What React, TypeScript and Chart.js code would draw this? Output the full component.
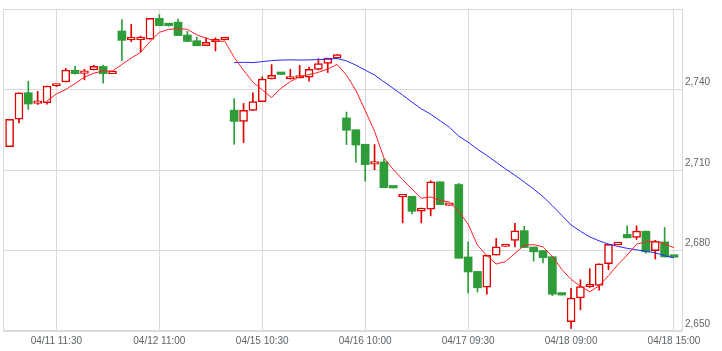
import React, { useEffect, useRef } from 'react';
import { Chart, registerables } from 'chart.js';

Chart.register(...registerables);

// 30-minute candles, 04/11 09:00 .. 04/18 15:00 (72 bars)
const opens = [
  2718.7, 2728.9, 2738.8, 2734.8, 2735.1, 2741.3, 2742.8, 2747.2, 2746.0, 2747.3,
  2748.6, 2745.9, 2761.8, 2758.5, 2758.6, 2758.8, 2766.5, 2764.0, 2765.1, 2760.3,
  2758.2, 2756.3, 2757.8, 2758.5, 2732.3, 2728.1, 2732.2, 2735.5, 2743.9, 2745.8,
  2743.9, 2744.3, 2744.6, 2747.5, 2749.7, 2751.7, 2729.4, 2725.0, 2719.6, 2712.2,
  2713.0, 2703.5, 2700.0, 2700.2, 2694.7, 2695.4, 2705.6, 2696.8, 2704.6, 2677.6,
  2672.2, 2666.3, 2678.3, 2681.5, 2683.8, 2687.4, 2681.3, 2680.0, 2677.7, 2663.6,
  2653.5, 2662.3, 2666.5, 2667.0, 2675.1, 2682.2, 2686.0, 2684.9, 2687.2, 2679.9,
  2683.2, 2678.0,
];
const highs = [
  2728.9, 2738.8, 2743.1, 2739.3, 2741.3, 2741.9, 2747.9, 2748.6, 2747.5, 2749.0,
  2749.1, 2746.9, 2766.1, 2764.3, 2759.9, 2766.5, 2767.9, 2764.0, 2766.2, 2761.7,
  2759.5, 2759.3, 2759.3, 2759.5, 2736.6, 2734.8, 2738.8, 2744.7, 2749.3, 2745.8,
  2747.5, 2749.0, 2748.4, 2751.5, 2751.7, 2753.0, 2731.6, 2725.0, 2719.6, 2719.5,
  2714.1, 2703.5, 2700.4, 2700.2, 2695.8, 2706.0, 2705.6, 2697.2, 2705.0, 2683.2,
  2672.2, 2678.2, 2684.5, 2681.7, 2690.1, 2689.0, 2681.3, 2680.0, 2677.7, 2663.6,
  2665.9, 2669.1, 2673.2, 2675.0, 2682.3, 2682.6, 2689.2, 2689.2, 2687.2, 2683.8,
  2688.6, 2678.0,
];
const lows = [
  2718.7, 2727.5, 2732.6, 2734.4, 2734.5, 2741.1, 2742.8, 2745.7, 2743.6, 2747.3,
  2742.4, 2745.9, 2750.8, 2757.8, 2753.9, 2758.8, 2763.8, 2763.6, 2760.1, 2757.9,
  2756.3, 2756.3, 2754.4, 2758.5, 2719.6, 2720.2, 2732.2, 2735.5, 2743.9, 2745.6,
  2743.9, 2744.3, 2743.1, 2747.3, 2746.3, 2751.7, 2719.5, 2712.9, 2705.8, 2710.1,
  2703.4, 2703.3, 2690.3, 2693.6, 2690.3, 2692.9, 2697.1, 2696.8, 2677.1, 2664.1,
  2664.5, 2663.7, 2678.3, 2681.5, 2681.3, 2681.1, 2676.0, 2675.4, 2663.2, 2663.4,
  2651.0, 2657.9, 2666.2, 2665.2, 2672.8, 2682.2, 2684.7, 2684.1, 2679.0, 2676.8,
  2677.6, 2677.5,
];
const closes = [
  2728.9, 2738.8, 2734.6, 2735.2, 2741.3, 2741.7, 2747.2, 2745.9, 2747.0, 2748.6,
  2745.9, 2746.9, 2758.3, 2758.9, 2759.0, 2766.5, 2763.8, 2763.8, 2760.1, 2757.9,
  2756.3, 2757.6, 2758.4, 2759.5, 2728.1, 2732.2, 2735.5, 2743.9, 2745.3, 2745.6,
  2744.3, 2744.9, 2747.5, 2749.7, 2751.7, 2753.0, 2724.8, 2719.3, 2712.0, 2713.0,
  2703.4, 2703.3, 2700.4, 2694.6, 2695.8, 2705.6, 2697.1, 2697.2, 2677.1, 2672.0,
  2666.1, 2678.2, 2681.4, 2681.7, 2687.3, 2681.1, 2679.5, 2677.3, 2663.7, 2663.4,
  2662.3, 2666.6, 2667.0, 2675.0, 2682.3, 2682.6, 2684.7, 2687.2, 2679.5, 2683.4,
  2677.6, 2677.5,
];

// short moving average (red), first value at bar 4
const maShortStart = 4;
const maShort = [
  2735.76, 2738.32, 2740.0, 2742.26, 2744.62, 2746.08, 2746.92, 2746.86, 2749.34, 2751.72,
  2753.8, 2757.92, 2761.3, 2762.4, 2762.64, 2762.42, 2760.38, 2759.14, 2758.06, 2757.94,
  2751.98, 2747.16, 2742.74, 2739.84, 2737.0, 2740.5, 2742.92, 2744.8, 2745.52, 2746.4,
  2747.62, 2749.36, 2745.34, 2739.7, 2732.16, 2724.42, 2714.5, 2710.2, 2706.42, 2702.94,
  2699.5, 2699.94, 2698.7, 2698.06, 2694.56, 2689.8, 2681.9, 2678.12, 2674.96, 2675.88,
  2678.94, 2681.94, 2682.2, 2681.38, 2677.78, 2673.0, 2669.24, 2666.66, 2664.6, 2666.86,
  2670.64, 2674.7, 2678.32, 2682.36, 2683.26, 2683.48, 2682.48, 2681.04,
];

// long moving average (blue), first value at bar 24
const maLongStart = 24;
const maLong = [
  2750.01, 2750.14, 2750.01, 2750.38, 2750.78, 2750.96, 2751.06, 2750.97, 2751.03, 2751.14,
  2751.26, 2751.55, 2750.66, 2749.1, 2747.23, 2745.39, 2742.86, 2740.44, 2737.91, 2735.29,
  2732.8, 2730.78, 2728.36, 2725.91, 2722.61, 2720.37, 2717.72, 2715.43, 2712.93, 2710.39,
  2708.06, 2705.53, 2702.91, 2700.1, 2696.66, 2693.13, 2689.5, 2687.18, 2685.08, 2683.6,
  2682.38, 2681.54, 2680.8, 2680.27, 2679.67, 2679.17, 2678.05, 2677.27,
];

const xTickIndex = [5, 16, 27, 38, 49, 60, 71];
const xTickLabels = ['04/11 11:30', '04/12 11:00', '04/15 10:30', '04/16 10:00', '04/17 09:30', '04/18 09:00', '04/18 15:00'];
const yMin = 2650;
const yMax = 2770;
const yStep = 30;

const RED = '#e00000';
const GREEN = '#2f9c3a';
const GRID = '#dadada';
const TEXT = '#5f6468';

export default function App() {
  const ref = useRef<HTMLCanvasElement>(null);

  useEffect(() => {
    document.body.style.margin = '0';
    const idx = closes.map((_, i) => i);
    const up = idx.map((i) => closes[i] >= opens[i]);
    const wickData = idx.map((i) => ({ x: i, y: [lows[i], highs[i]] }));
    const bodyData = idx.map((i) => ({ x: i, y: [opens[i], closes[i]] }));
    const shortData = maShort.map((v, k) => ({ x: k + maShortStart, y: v }));
    const longData = maLong.map((v, k) => ({ x: k + maLongStart, y: v }));

    const frame = {
      id: 'frame',
      beforeDatasetsDraw(chart: any) {
        const { ctx, chartArea: a } = chart;
        ctx.save();
        ctx.strokeStyle = GRID;
        ctx.lineWidth = 1;
        const l = Math.round(a.left) + 0.5;
        const t = Math.round(a.top) + 0.5;
        const r = Math.round(a.right) + 0.5;
        const b = Math.round(a.bottom) - 0.5;
        ctx.strokeRect(l, t, r - l, b - t);
        ctx.restore();
      },
    };

    const chart = new Chart(ref.current as HTMLCanvasElement, {
      type: 'bar',
      data: {
        datasets: [
          {
            type: 'line',
            data: shortData as any,
            borderColor: '#ff1e1e',
            borderWidth: 1,
            pointRadius: 0,
            tension: 0,
            order: 1,
          },
          {
            type: 'line',
            data: longData as any,
            borderColor: '#2626ff',
            borderWidth: 1,
            pointRadius: 0,
            tension: 0,
            order: 1,
          },
          {
            type: 'bar',
            data: bodyData as any,
            backgroundColor: up.map((u) => (u ? '#ffffff' : GREEN)),
            borderColor: up.map((u) => (u ? RED : GREEN)),
            borderWidth: up.map((u) => (u ? 1.5 : 0)),
            borderSkipped: false,
            barThickness: 8,
            minBarLength: 2.5,
            grouped: false,
            order: 2,
          } as any,
          {
            type: 'bar',
            data: wickData as any,
            backgroundColor: up.map((u) => (u ? RED : GREEN)),
            borderWidth: 0,
            barThickness: 1,
            grouped: false,
            order: 3,
          } as any,
        ],
      },
      options: {
        responsive: false,
        animation: false,
        events: [],
        layout: { padding: { left: 3, top: 2, right: 0, bottom: 0 } },
        plugins: { legend: { display: false }, tooltip: { enabled: false } },
        font: { family: "'Liberation Sans', Arial, sans-serif", size: 10 },
        scales: {
          x: {
            type: 'linear',
            min: -0.705,
            max: 71.855,
            offset: false,
            afterBuildTicks: (axis: any) => {
              axis.ticks = xTickIndex.map((v) => ({ value: v }));
            },
            afterFit: (scale: any) => {
              scale.height = 20;
            },
            grid: { color: GRID, drawTicks: false, offset: false },
            border: { display: false },
            ticks: {
              autoSkip: false,
              maxRotation: 0,
              padding: 4,
              color: TEXT,
              font: { family: "'Liberation Sans', Arial, sans-serif", size: 10 },
              callback: (_v: any, i: number) => xTickLabels[i],
            },
          },
          y: {
            type: 'linear',
            position: 'right',
            min: yMin,
            max: yMax,
            afterFit: (scale: any) => {
              scale.width = 40;
            },
            grid: { color: GRID, drawTicks: false },
            border: { display: false },
            ticks: {
              stepSize: yStep,
              padding: 3,
              labelOffset: -7,
              color: TEXT,
              font: { family: "'Liberation Sans', Arial, sans-serif", size: 10 },
              callback: (v: any) => (v === yMax ? '' : Number(v).toLocaleString('en-US')),
            },
          },
        },
      } as any,
      plugins: [frame],
    });
    return () => chart.destroy();
  }, []);

  return (
    <div style={{ position: 'relative', width: 722, height: 351, background: '#ffffff' }}>
      <canvas ref={ref} width={722} height={351} style={{ display: 'block' }} />
    </div>
  );
}
